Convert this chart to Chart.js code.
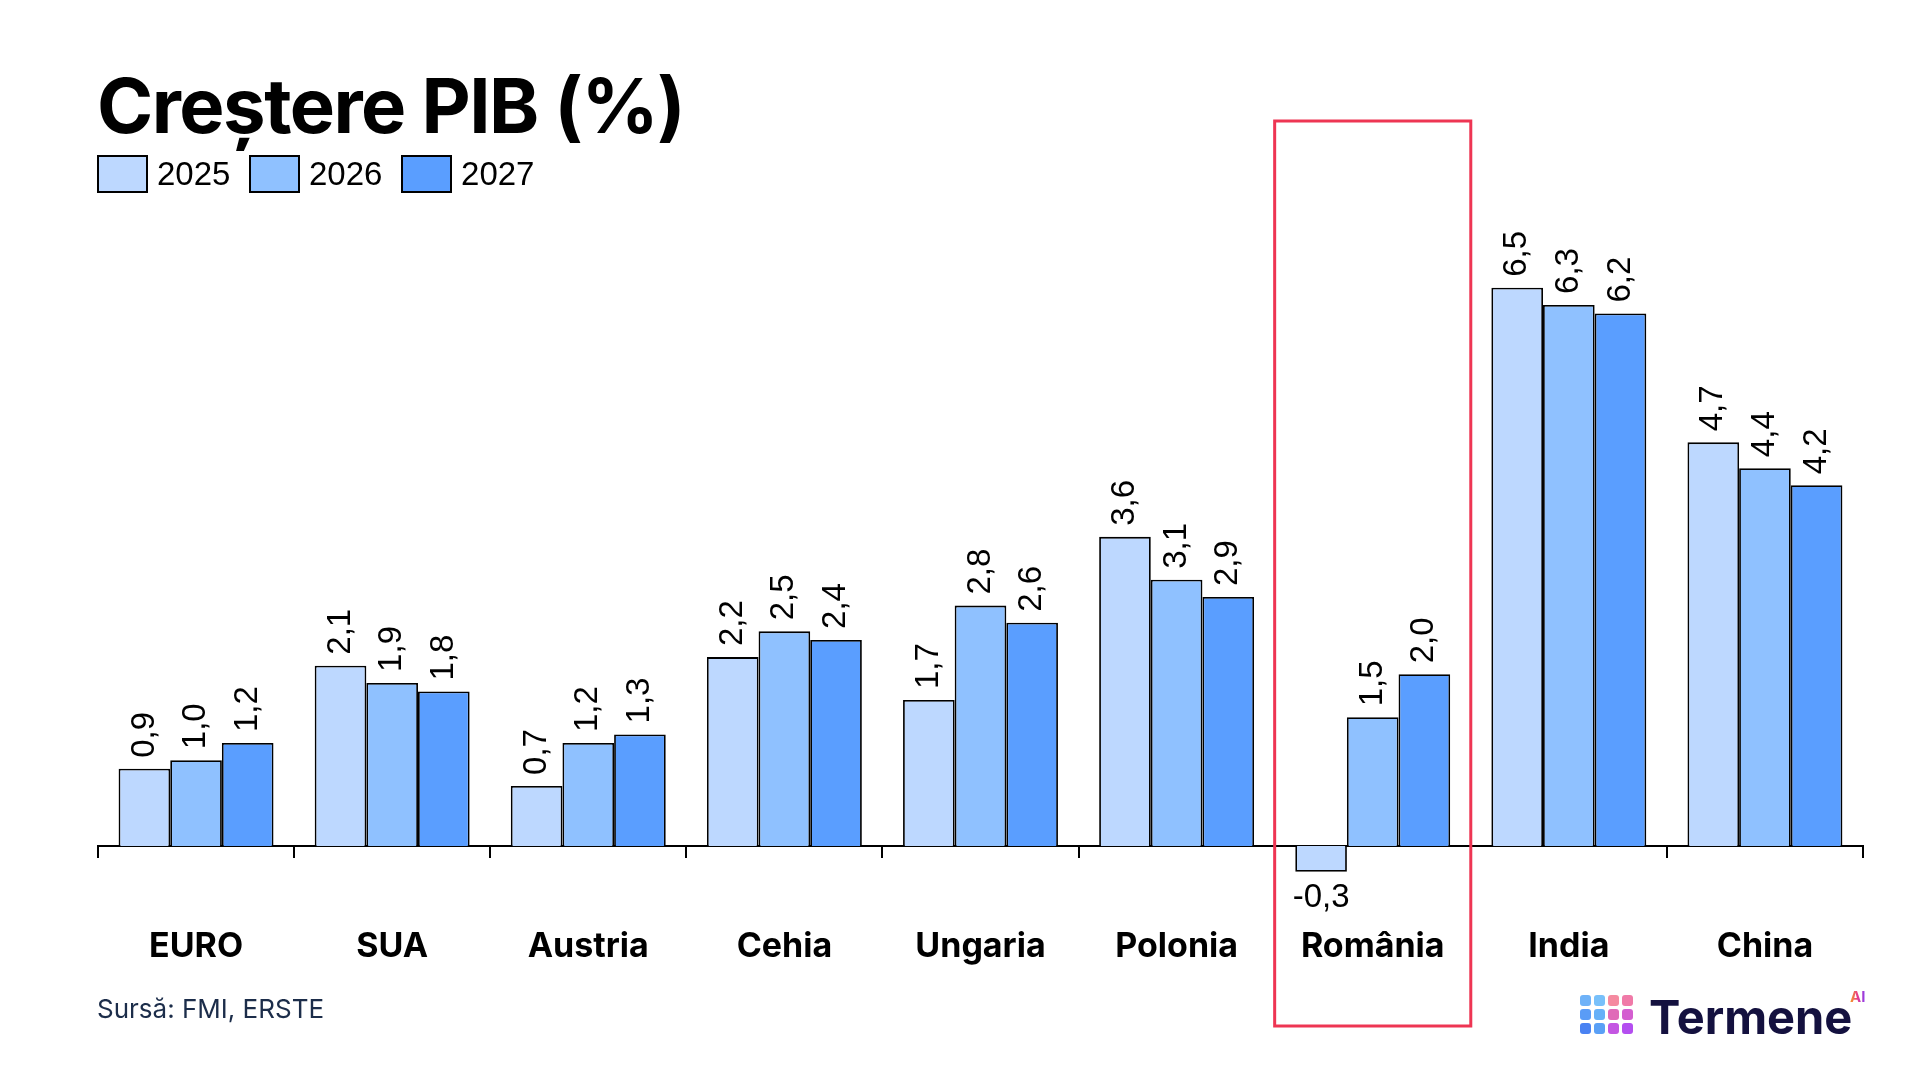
<!DOCTYPE html>
<html lang="ro">
<head>
<meta charset="utf-8">
<title>Creștere PIB (%)</title>
<script src="https://cdn.jsdelivr.net/npm/chart.js@4.4.1/dist/chart.umd.min.js"></script>
<style>
  html, body { margin: 0; padding: 0; background: #fff; }
  #wrap { position: relative; width: 1920px; height: 1080px; overflow: hidden; }
  #wrap canvas { position: absolute; left: 0; top: 0; }
  .title { position: absolute; left: 97px; top: 67px; font: 700 76px/1 Inter, sans-serif; letter-spacing: -1.5px; color: #000; white-space: nowrap; }
  .legend { position: absolute; left: 97px; top: 155px; display: flex; }
  .legend .item { display: flex; align-items: center; margin-right: 18.6px; }
  .legend .box { width: 51px; height: 38px; box-sizing: border-box; border: 2px solid #000; }
  .legend .txt { margin-left: 9px; font: 33px/38px "Liberation Sans", Arial, sans-serif; color: #000; }
  .source { position: absolute; left: 97px; top: 996px; font: 400 26px/1 Inter, sans-serif; color: #1c2d4a; white-space: nowrap; }
  .logo-icon { position: absolute; left: 1580px; top: 995px; display: grid; grid-template-columns: repeat(4, 11px); grid-gap: 3px; }
  .logo-icon span { width: 11px; height: 11px; border-radius: 3px; display: block; }
  .logo-text { position: absolute; left: 1649px; top: 993px; font: 700 47px/1 Inter, sans-serif; color: #14113f; white-space: nowrap; }
  .logo-ai { position: absolute; left: 1850px; top: 989px; font: 700 15px/1 Inter, sans-serif; white-space: nowrap;
             background: linear-gradient(90deg, #f7a21b, #e83a8c, #8a3df0); -webkit-background-clip: text; background-clip: text; color: transparent; }
</style>
</head>
<body>
<div id="wrap">
  <canvas id="gdpChart" width="1920" height="1080"></canvas>
  <div class="title">Creștere PIB (%)</div>
  <div class="legend" id="legend"></div>
  <div class="source">Sursă: FMI, ERSTE</div>
  <div class="logo-icon">
    <span style="background:#6fb2f8"></span><span style="background:#78c0fa"></span><span style="background:#f58aa0"></span><span style="background:#f07aa8"></span>
    <span style="background:#5a9cf6"></span><span style="background:#66b0f8"></span><span style="background:#e06ab8"></span><span style="background:#d45ed0"></span>
    <span style="background:#4a82f2"></span><span style="background:#5aa0f6"></span><span style="background:#c456e2"></span><span style="background:#b44ef0"></span>
  </div>
  <div class="logo-text">Termene</div>
  <div class="logo-ai">AI</div>
</div>
<script>
const categories = ['EURO', 'SUA', 'Austria', 'Cehia', 'Ungaria', 'Polonia', 'România', 'India', 'China'];
const years = ['2025', '2026', '2027'];
const growth2025 = [0.9, 2.1, 0.7, 2.2, 1.7, 3.6, -0.3, 6.5, 4.7];
const growth2026 = [1.0, 1.9, 1.2, 2.5, 2.8, 3.1, 1.5, 6.3, 4.4];
const growth2027 = [1.2, 1.8, 1.3, 2.4, 2.6, 2.9, 2.0, 6.2, 4.2];
const highlighted = 'România';

const colors = ['#bdd8ff', '#8fc1ff', '#5a9eff'];

// value labels: vertical above positive bars, horizontal under negative ones
const valueLabels = {
  id: 'valueLabels',
  afterDatasetsDraw(chart) {
    const ctx = chart.ctx;
    ctx.save();
    ctx.font = '33px "Liberation Sans", Arial, sans-serif';
    ctx.fillStyle = '#000';
    chart.data.datasets.forEach((ds, i) => {
      chart.getDatasetMeta(i).data.forEach((bar, j) => {
        const v = ds.data[j];
        const text = v.toFixed(1).replace('.', ',');
        if (v >= 0) {
          ctx.save();
          ctx.translate(bar.x, bar.y - 11);
          ctx.rotate(-Math.PI / 2);
          ctx.textAlign = 'left';
          ctx.textBaseline = 'middle';
          ctx.fillText(text, 0, 0);
          ctx.restore();
        } else {
          ctx.textAlign = 'center';
          ctx.textBaseline = 'middle';
          ctx.fillText(text, bar.x, bar.y + 26);
        }
      });
    });
    ctx.restore();
  }
};

// red frame around the highlighted category
const highlightBox = {
  id: 'highlightBox',
  afterDraw(chart) {
    const x = chart.scales.x;
    const step = x.width / categories.length;
    const cx = x.getPixelForValue(categories.indexOf(highlighted));
    const ctx = chart.ctx;
    ctx.save();
    ctx.strokeStyle = '#ee3553';
    ctx.lineWidth = 3;
    ctx.strokeRect(cx - step / 2, 121, step, 905);
    ctx.restore();
  }
};

Chart.defaults.font.family = 'Inter';

const chart = new Chart(document.getElementById('gdpChart'), {
  type: 'bar',
  data: {
    labels: categories,
    datasets: [growth2025, growth2026, growth2027].map((d, i) => ({
      label: years[i],
      data: d,
      backgroundColor: colors[i],
      borderColor: '#000',
      borderWidth: 1.8,
      categoryPercentage: 0.79,
      barPercentage: 1.0
    }))
  },
  options: {
    responsive: false,
    animation: false,
    layout: { padding: { top: 207, left: 84, right: 57, bottom: 148 } },
    plugins: {
      title: { display: false },
      tooltip: { enabled: false },
      legend: { display: false }
    },
    scales: {
      x: {
        position: { y: 0 },
        grid: { display: true, drawOnChartArea: false, drawTicks: true, tickLength: 11, color: '#000', lineWidth: 2, offset: true },
        border: { display: true, color: '#000', width: 2 },
        ticks: { color: '#000', padding: 69, maxRotation: 0, autoSkip: false, font: { family: 'Inter', size: 34, weight: '700' } }
      },
      y: {
        min: -1,
        max: 7.44,
        grid: { display: false },
        border: { display: false },
        ticks: { display: false },
        afterFit(scale) { scale.width = 14; }
      }
    }
  },
  plugins: [valueLabels, highlightBox]
});

// html legend built from the chart's own legend items
const legendEl = document.getElementById('legend');
Chart.defaults.plugins.legend.labels.generateLabels(chart).forEach(item => {
  const el = document.createElement('div');
  el.className = 'item';
  el.innerHTML = '<span class="box" style="background:' + item.fillStyle + '"></span><span class="txt">' + item.text + '</span>';
  legendEl.appendChild(el);
});
</script>
</body>
</html>
